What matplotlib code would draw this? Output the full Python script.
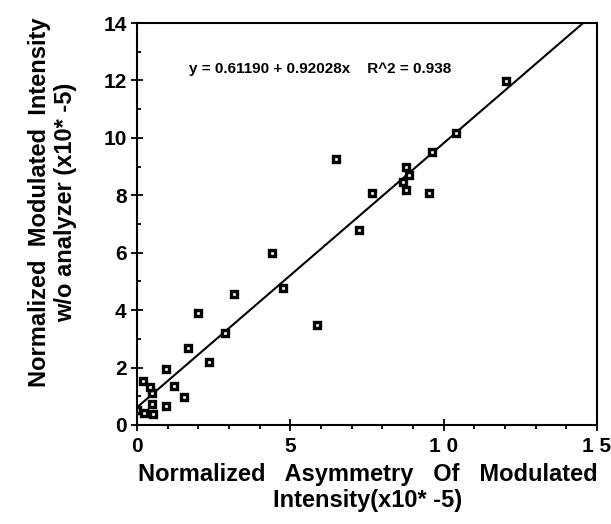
import matplotlib
matplotlib.use("Agg")
import matplotlib.pyplot as plt
import numpy as np

plt.rcParams['font.family'] = ['Liberation Sans', 'DejaVu Sans']
plt.rcParams['font.weight'] = 'bold'

# measured points (x10^-5)
asym = [0.01, 0.23, 0.53, 0.48, 0.95, 1.53, 0.50, 0.42, 0.21, 1.21, 0.95,
        2.35, 1.67, 2.87, 1.98, 3.18, 4.77, 4.39, 5.86, 6.49, 7.23, 7.68,
        8.77, 8.68, 8.88, 8.77, 9.51, 9.61, 10.40, 12.03]
intens = [0.52, 0.41, 0.39, 0.72, 0.66, 0.96, 1.13, 1.33, 1.53, 1.35, 1.96,
          2.21, 2.69, 3.22, 3.89, 4.55, 4.76, 6.00, 3.48, 9.27, 6.79, 8.09,
          8.18, 8.48, 8.71, 8.98, 8.08, 9.50, 10.16, 11.99]

# fit shown on the chart
intercept = 0.61190
slope = 0.92028
r2 = 0.938

fig = plt.figure(figsize=(6.11, 5.24), dpi=100)
ax = fig.add_axes([0.2242, 0.189, 0.7528, 0.767])

xfit = np.array([0, 15])
ax.plot(xfit, intercept + slope * xfit, color='black', lw=1.5)
ax.plot(asym, intens, ls='none', marker='s', ms=4.8, mfc='white',
        mec='black', mew=2.4)

ax.set_xlim(0, 15)
ax.set_ylim(0, 14)
ax.set_xticks([0, 5, 10, 15])
ax.set_xticklabels(['0', '5', '1 0', '1 5'])
ax.set_xticks(np.arange(0, 16, 1), minor=True)
ax.set_yticks(np.arange(0, 15, 2))
ax.set_yticks(np.arange(0, 15, 1), minor=True)
ax.tick_params(which='major', direction='inout', length=8, width=1.3,
               labelsize=15)
ax.tick_params(axis='x', which='major', pad=5)
ax.tick_params(axis='x', which='minor', direction='out', length=3, width=1.3)
ax.tick_params(axis='y', which='minor', direction='in', length=3, width=1.3)
for sp in ax.spines.values():
    sp.set_linewidth(1.5)

ax.text(0.112, 0.875, 'y = 0.61190 + 0.92028x    R^2 = %.3f' % r2,
        transform=ax.transAxes, fontsize=11, fontweight='bold')

ax.set_xlabel('Normalized   Asymmetry   Of   Modulated\nIntensity(x10* -5)',
              fontsize=17, fontweight='bold', linespacing=1.2)
ax.xaxis.set_label_coords(0.502, -0.094)
ax.set_ylabel('Normalized  Modulated  Intensity\nw/o analyzer (x10* -5)',
              fontsize=17, fontweight='bold', linespacing=1.2)
ax.yaxis.set_label_coords(-0.13, 0.555)

fig.savefig('out.png', dpi=100)
